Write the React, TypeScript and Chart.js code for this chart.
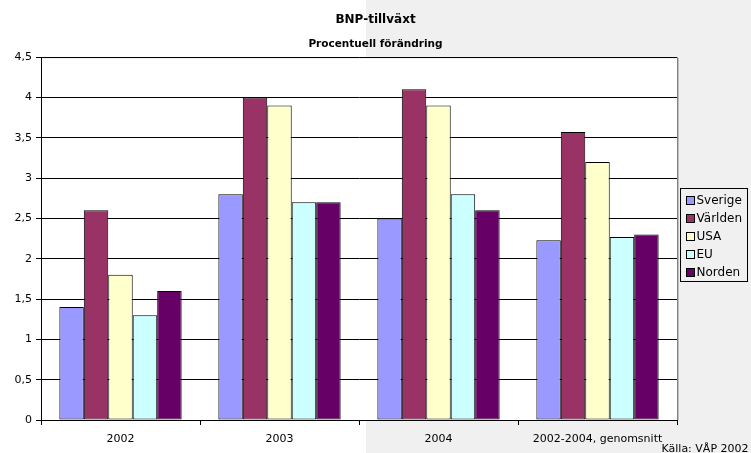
import React, { useEffect, useRef } from "react";
import { Chart, registerables } from "chart.js";

Chart.register(...registerables);

const categories = ["2002", "2003", "2004", "2002-2004, genomsnitt"];
const seriesNames = ["Sverige", "Världen", "USA", "EU", "Norden"];
const sverige = [1.4, 2.8, 2.5, 2.23];
const varlden = [2.6, 4.0, 4.1, 3.57];
const usa = [1.8, 3.9, 3.9, 3.2];
const eu = [1.3, 2.7, 2.8, 2.27];
const norden = [1.6, 2.7, 2.6, 2.3];
const seriesColors = ["#9999FF", "#993366", "#FFFFCC", "#CCFFFF", "#660066"];
const yTickValues = [0, 0.5, 1, 1.5, 2, 2.5, 3, 3.5, 4, 4.5];
const yTickLabels = ["0", "0,5", "1", "1,5", "2", "2,5", "3", "3,5", "4", "4,5"];
const titleText = "BNP-tillväxt";
const subtitleText = "Procentuell förändring";
const sourceText = "Källa: VÅP 2002";

const FONT = "'DejaVu Sans', Verdana, sans-serif";

const decorPlugin = {
  id: "decor",
  beforeDraw(chart: any) {
    const { ctx, width, height, chartArea } = chart;
    ctx.save();
    ctx.fillStyle = "#FFFFFF";
    ctx.fillRect(0, 0, 366, height);
    ctx.fillStyle = "#F0F0F0";
    ctx.fillRect(366, 0, width - 366, height);
    ctx.fillStyle = "#FFFFFF";
    ctx.fillRect(
      chartArea.left,
      chartArea.top,
      chartArea.right - chartArea.left,
      chartArea.bottom - chartArea.top
    );
    ctx.strokeStyle = "#808080";
    ctx.lineWidth = 1;
    ctx.beginPath();
    ctx.moveTo(chartArea.left, chartArea.top + 0.5);
    ctx.lineTo(chartArea.right + 0.5, chartArea.top + 0.5);
    ctx.lineTo(chartArea.right + 0.5, chartArea.bottom);
    ctx.stroke();
    ctx.strokeStyle = "#C0C0C0";
    ctx.beginPath();
    ctx.moveTo(chartArea.right + 1.5, chartArea.top + 1);
    ctx.lineTo(chartArea.right + 1.5, chartArea.bottom);
    ctx.stroke();
    ctx.restore();
  },
  afterDraw(chart: any) {
    const { ctx, width, height, chartArea } = chart;
    ctx.save();
    // legend
    const ds = chart.data.datasets;
    const boxLeft = Math.round(chartArea.right + 3) + 0.5;
    const boxW = 67;
    const rowH = 18;
    const boxTop = 188.5;
    const boxH = 93;
    ctx.strokeStyle = "#000000";
    ctx.lineWidth = 1;
    ctx.strokeRect(boxLeft, boxTop, boxW, boxH);
    ctx.font = `12px ${FONT}`;
    ctx.textBaseline = "middle";
    ctx.textAlign = "left";
    ds.forEach((d: any, i: number) => {
      const cy = boxTop + 11.5 + i * rowH;
      const sx = boxLeft + 6;
      const sy = Math.round(cy - 4) + 0.5;
      ctx.fillStyle = d.backgroundColor;
      ctx.fillRect(sx, sy, 8, 8);
      ctx.strokeStyle = "#000000";
      ctx.strokeRect(sx, sy, 8, 8);
      ctx.fillStyle = "#000000";
      ctx.fillText(d.label, sx + 10, cy + 0.5);
    });
    // source
    ctx.font = `11px ${FONT}`;
    ctx.textAlign = "right";
    ctx.textBaseline = "alphabetic";
    ctx.fillStyle = "#000000";
    ctx.fillText(sourceText, width - 2.5, height - 1.5);
    ctx.restore();
  },
};

export default function App() {
  const ref = useRef<HTMLCanvasElement | null>(null);

  useEffect(() => {
    const canvas = ref.current;
    if (!canvas) return;
    const values = [sverige, varlden, usa, eu, norden];
    const chart = new Chart(canvas, {
      type: "bar",
      data: {
        labels: categories,
        datasets: seriesNames.map((name, i) => ({
          label: name,
          data: values[i],
          backgroundColor: seriesColors[i],
          borderColor: "#000000",
          borderWidth: 1,
          borderSkipped: false,
          categoryPercentage: 5 / 6.5,
          barPercentage: 1,
          yAxisID: "y",
        })),
      },
      options: {
        responsive: false,
        animation: false,
        events: [],
        layout: { padding: { top: 0, left: 0, right: 0, bottom: 0 } },
        plugins: {
          legend: { display: false },
          tooltip: { enabled: false },
          title: {
            display: true,
            text: titleText,
            color: "#000000",
            font: { family: FONT, size: 12, weight: "bold" },
            padding: { top: 12.5, bottom: 4 },
          },
          subtitle: {
            display: true,
            text: subtitleText,
            color: "#000000",
            font: { family: FONT, size: 10.5, weight: "bold" },
            padding: { top: 7, bottom: 6.6 },
          },
        },
        scales: {
          x: {
            offset: true,
            grid: {
              offset: true,
              drawOnChartArea: false,
              drawTicks: true,
              tickLength: 5,
              color: "#000000",
            },
            border: { display: true, color: "#000000", width: 1 },
            ticks: {
              color: "#000000",
              font: { family: FONT, size: 11 },
              padding: 7.5,
              maxRotation: 0,
              autoSkip: false,
            },
            afterFit(scale: any) {
              scale.height = 33;
            },
          },
          y: {
            position: "left",
            min: 0,
            max: 4.5,
            afterBuildTicks(scale: any) {
              scale.ticks = yTickValues.map((v) => ({ value: v }));
            },
            grid: {
              color: "#000000",
              drawTicks: true,
              tickLength: 5,
            },
            border: { display: true, color: "#000000", width: 1 },
            ticks: {
              color: "#000000",
              font: { family: FONT, size: 11 },
              padding: 4,
              callback: (v: any) => {
                const idx = yTickValues.indexOf(Number(v));
                return idx >= 0 ? yTickLabels[idx] : "";
              },
            },
            afterFit(scale: any) {
              scale.width = 41;
            },
          },
          yRight: {
            position: "right",
            min: 0,
            max: 1,
            display: true,
            grid: { display: false, drawTicks: false },
            border: { display: false },
            ticks: { display: false },
            afterFit(scale: any) {
              scale.width = 74;
            },
          },
        },
      } as any,
      plugins: [decorPlugin],
    });
    return () => chart.destroy();
  }, []);

  return (
    <div style={{ position: "fixed", left: 0, top: 0, width: 751, height: 453 }}>
      <canvas ref={ref} width={751} height={453} style={{ display: "block" }} />
    </div>
  );
}
